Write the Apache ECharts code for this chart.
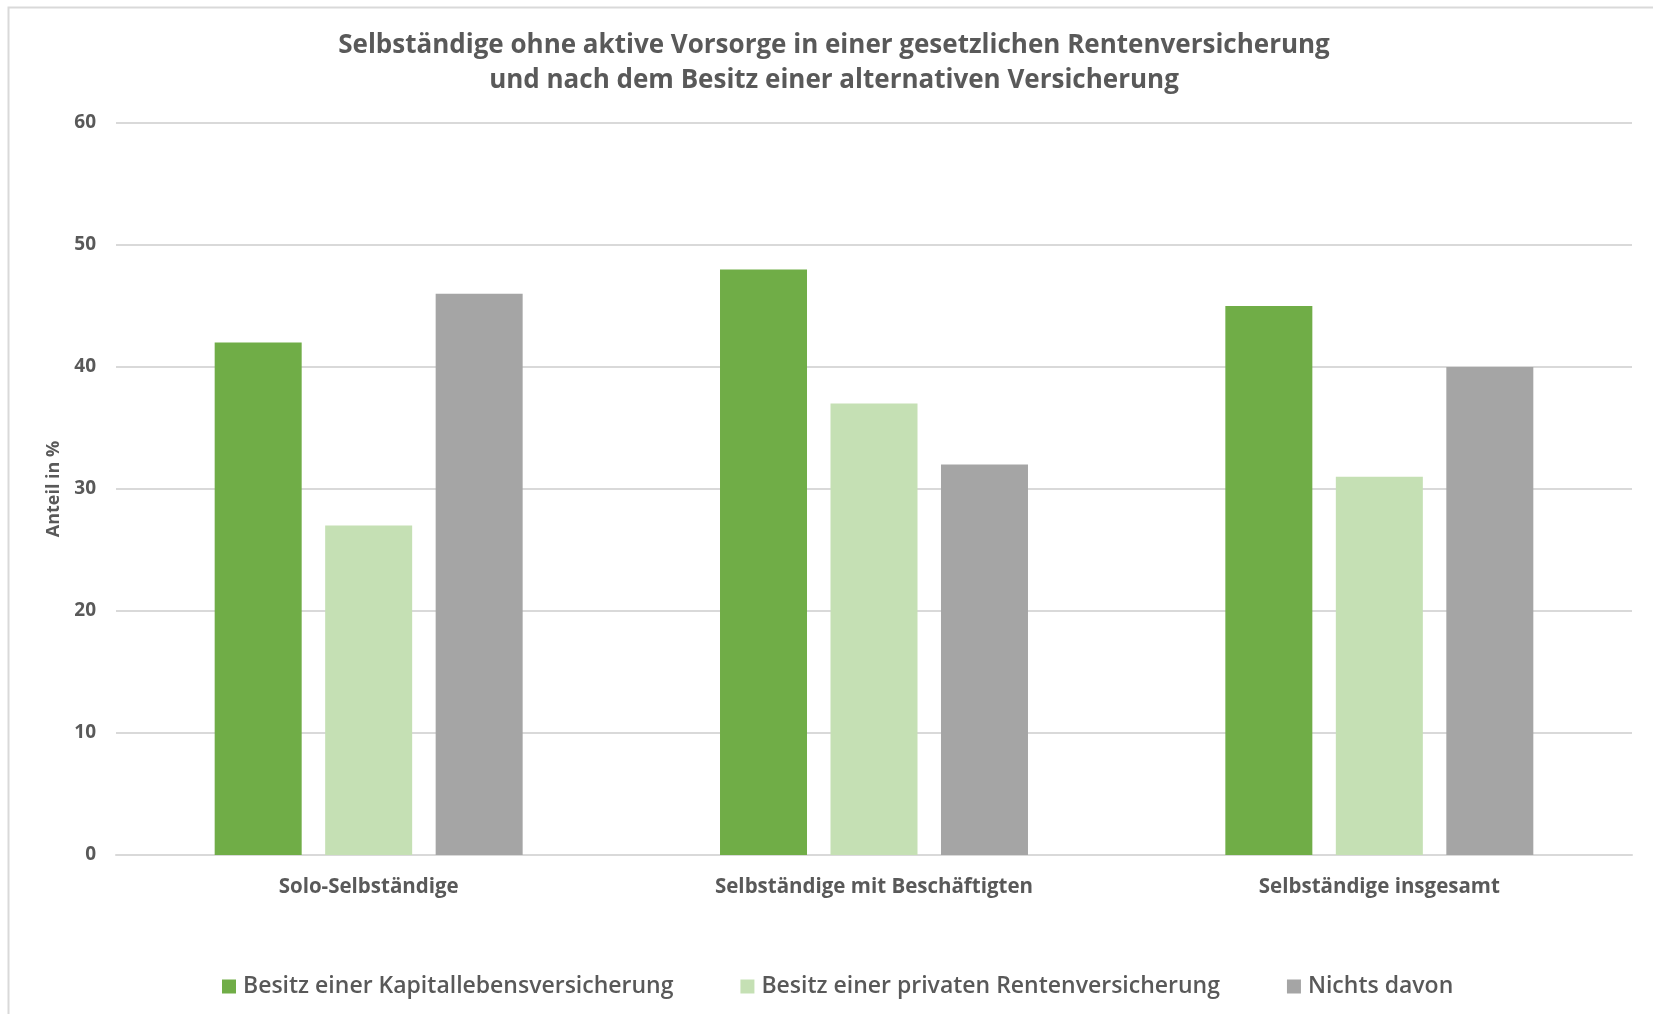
<!DOCTYPE html>
<html><head><meta charset="utf-8">
<script src="https://cdn.jsdelivr.net/npm/echarts@6/dist/echarts.min.js"></script>
<style>html,body{margin:0;padding:0;background:#fff}#c{width:1653px;height:1014px}</style>
</head><body><div id="c"></div>
<script>
const categories = ['Solo-Selbständige', 'Selbständige mit Beschäftigten', 'Selbständige insgesamt'];
const seriesNames = ['Besitz einer Kapitallebensversicherung', 'Besitz einer privaten Rentenversicherung', 'Nichts davon'];
const kapitalleben = [42, 48, 45];
const privateRente = [27, 37, 31];
const nichtsDavon = [46, 32, 40];
const titleLines = ['Selbständige ohne aktive Vorsorge in einer gesetzlichen Rentenversicherung', 'und nach dem Besitz einer alternativen Versicherung'];
const yAxisName = 'Anteil in %';

const colors = ['#70AD47', '#C5E0B4', '#A5A5A5'];
const FONT = '"Open Sans", "Noto Sans", sans-serif';
const TXT = '#595959';

const chart = echarts.init(document.getElementById('c'));
const values = [kapitalleben, privateRente, nichtsDavon];
const titleCenterX = 834;
const titleCenterY = [45.5, 80.5];
chart.setOption({
  animation: false,
  backgroundColor: '#fff',
  color: colors,
  graphic: [{
    type: 'rect', silent: true,
    shape: { x: 8.5, y: 7.5, width: 1700, height: 1100 },
    style: { fill: 'none', stroke: '#D9D9D9', lineWidth: 2 }
  }].concat(titleLines.map((t, i) => ({
    type: 'text', silent: true,
    x: titleCenterX, y: titleCenterY[i],
    style: {
      text: t, fill: TXT, align: 'center', verticalAlign: 'middle',
      fontFamily: FONT, fontSize: 26, fontWeight: 'bold'
    }
  }))),
  legend: {
    data: seriesNames,
    left: 217,
    top: 970,
    itemWidth: 14, itemHeight: 14, itemGap: 67,
    icon: 'rect',
    textStyle: { fontFamily: FONT, fontSize: 23, fontWeight: 600, color: TXT, padding: [0, 0, 0, 2] }
  },
  grid: { left: 116, right: 21, top: 123, bottom: 159, containLabel: false },
  xAxis: {
    type: 'category',
    data: categories,
    axisLine: { show: true, lineStyle: { color: '#D9D9D9', width: 2 } },
    axisTick: { show: false },
    axisLabel: { fontFamily: FONT, fontSize: 20.5, fontWeight: 'bold', color: TXT, margin: 22 }
  },
  yAxis: {
    type: 'value',
    min: 0, max: 60, interval: 10,
    name: yAxisName,
    nameLocation: 'middle',
    nameRotate: 90,
    nameGap: 52,
    nameTextStyle: { fontFamily: FONT, fontSize: 18, fontWeight: 'bold', color: TXT },
    axisLine: { show: false },
    axisTick: { show: false },
    splitLine: { lineStyle: { color: '#D9D9D9', width: 2 } },
    axisLabel: { fontFamily: FONT, fontSize: 19, fontWeight: 'bold', color: TXT, margin: 20 }
  },
  series: seriesNames.map((n, i) => ({
    name: n,
    type: 'bar',
    data: values[i],
    barWidth: 87,
    barGap: '27%',
    itemStyle: { color: colors[i] }
  }))
});
</script></body></html>
